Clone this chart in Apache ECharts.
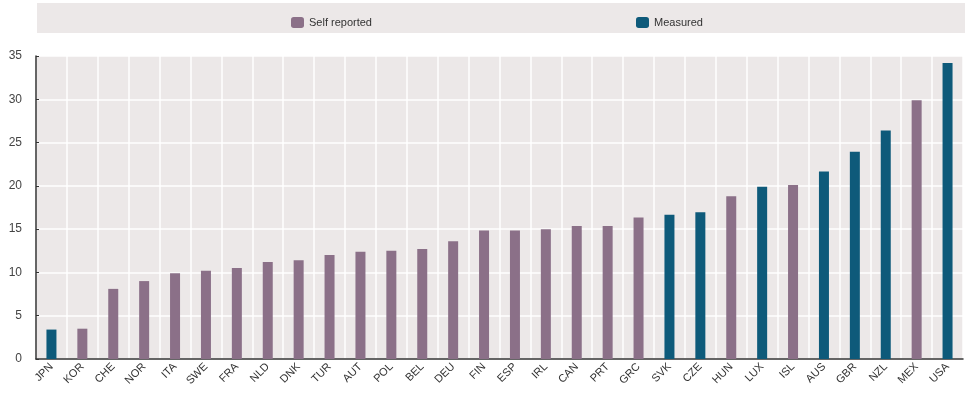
<!DOCTYPE html>
<html><head><meta charset="utf-8">
<script src="https://cdn.jsdelivr.net/npm/echarts@6/dist/echarts.min.js"></script>
<style>html,body{margin:0;padding:0;background:#fff}#c{width:975px;height:396px}</style>
</head><body><div id="c"></div>
<script>
const categories = ['JPN','KOR','CHE','NOR','ITA','SWE','FRA','NLD','DNK','TUR','AUT','POL','BEL','DEU','FIN','ESP','IRL','CAN','PRT','GRC','SVK','CZE','HUN','LUX','ISL','AUS','GBR','NZL','MEX','USA'];
const values = [3.4,3.5,8.1,9.0,9.9,10.2,10.5,11.2,11.4,12.0,12.4,12.5,12.7,13.6,14.85,14.85,15.0,15.35,15.35,16.35,16.65,16.95,18.8,19.9,20.1,21.65,23.95,26.4,29.9,34.2];
const measured = ['JPN','SVK','CZE','LUX','AUS','GBR','NZL','USA'];
const seriesNames = ['Self reported','Measured'];
const yTicks = {min:0, max:35, interval:5};

const selfData = categories.map((c,i)=> measured.includes(c) ? null : values[i]);
const measData = categories.map((c,i)=> measured.includes(c) ? values[i] : null);
const font = 'Liberation Sans Narrow, Liberation Sans, Arial';

const chart = echarts.init(document.getElementById('c'));
chart.setOption({
  animation:false,
  graphic:[{type:'rect',left:37,top:3,shape:{width:928,height:30},style:{fill:'#ece8e8'},z:-1}],
  legend:[
    {data:[seriesNames[0]],left:286,top:12,itemWidth:13,itemHeight:11,itemGap:5,textStyle:{fontFamily:font,fontSize:11,color:'#333'}},
    {data:[seriesNames[1]],left:631,top:12,itemWidth:13,itemHeight:11,itemGap:5,textStyle:{fontFamily:font,fontSize:11,color:'#333'}}
  ],
  grid:{left:36,right:12,top:56,bottom:37,show:true,backgroundColor:'#ece8e8',borderWidth:0},
  xAxis:{type:'category',data:categories,boundaryGap:true,
    axisLine:{lineStyle:{color:'#333',width:1.5}},
    axisTick:{inside:true,length:3,lineStyle:{color:'#333'}},
    axisLabel:{rotate:45,fontFamily:font,fontSize:11,color:'#333',margin:6,interval:0},
    splitLine:{show:true,lineStyle:{color:'#fff',width:1.5}}},
  yAxis:{type:'value',min:yTicks.min,max:yTicks.max,interval:yTicks.interval,
    axisLine:{show:true,lineStyle:{color:'#333',width:1.5}},
    axisTick:{show:true,inside:true,length:3,lineStyle:{color:'#333'}},
    axisLabel:{fontFamily:'Liberation Sans, Arial',fontSize:12,color:'#444',margin:14},
    splitLine:{lineStyle:{color:'#fff',width:1.5}}},
  series:[
    {name:seriesNames[0],type:'bar',stack:'a',data:selfData,barWidth:10,itemStyle:{color:'#8b7088'}},
    {name:seriesNames[1],type:'bar',stack:'a',data:measData,barWidth:10,itemStyle:{color:'#0e5a7a'}}
  ]
});
</script></body></html>
